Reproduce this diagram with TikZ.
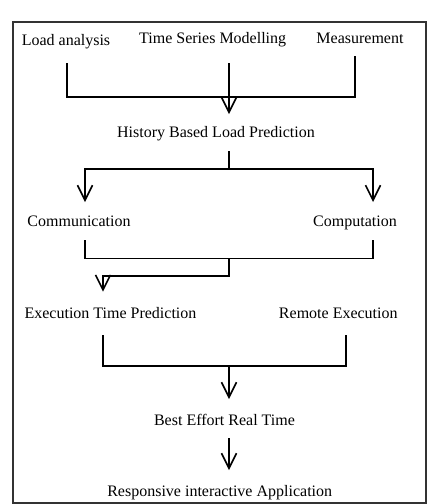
\documentclass[tikz,border=0pt]{standalone}
\usepackage{fontspec}
\setmainfont{Liberation Serif}
\usetikzlibrary{arrows.meta}
\begin{document}
\begin{tikzpicture}[x=1pt,y=-1pt,
  lbl/.style={anchor=base, inner sep=0pt, font=\fontsize{16}{19}\selectfont},
  conn/.style={line width=1.6pt, black},
  arr/.style={conn, -{Straight Barb[length=15pt,width=15pt]}},
]
\useasboundingbox (0,0) rectangle (430,504);
\draw[line width=1.6pt, black!80] (12.7,21.7) rectangle (426,502.7);

\node[lbl] (load) at (66,45) {Load analysis};
\node[lbl] (tsm) at (212.7,43) {Time Series Modelling};
\node[lbl] (meas) at (360,43) {Measurement};
\node[lbl] (hblp) at (216,137.3) {History Based Load Prediction};
\node[lbl] (comm) at (79,226.7) {Communication};
\node[lbl] (comp) at (355,226.7) {Computation};
\node[lbl] (etp) at (110.5,318.3) {Execution Time Prediction};
\node[lbl] (re) at (338.3,318.3) {Remote Execution};
\node[lbl] (bert) at (224.5,425) {Best Effort Real Time};
\node[lbl] (ria) at (219.7,496.7) {Responsive interactive Application};

\coordinate (loadOut) at (67,63);
\coordinate (tsmOut) at (229,63);
\coordinate (measOut) at (355,56);
\coordinate (hblpIn) at (229,114);
\coordinate (m1) at (229,97);
\draw[conn] (loadOut) |- (measOut |- m1) -- (measOut);
\draw[arr] (tsmOut) -- (hblpIn);

\coordinate (hblpOut) at (229,151);
\coordinate (s1) at (229,169);
\coordinate (commIn) at (85,202);
\coordinate (compIn) at (373,202);
\draw[conn] (hblpOut) -- (s1);
\draw[arr] (s1) -| (commIn);
\draw[arr] (s1) -| (compIn);

\coordinate (commOut) at (85,240);
\coordinate (compOut) at (373,240);
\coordinate (m2) at (229,258.5);
\coordinate (m3) at (229,276);
\coordinate (etpIn) at (103,291.7);
\draw[conn] (commOut) |- (compOut |- m2) -- (compOut);
\draw[arr] (m2) -- (m3) -| (etpIn);

\coordinate (etpOut) at (103,335);
\coordinate (reOut) at (346,335);
\coordinate (m4) at (229,366);
\coordinate (bertIn) at (229,399);
\draw[conn] (etpOut) |- (reOut |- m4) -- (reOut);
\draw[arr] (m4) -- (bertIn);

\coordinate (bertOut) at (229,438);
\coordinate (riaIn) at (229,470);
\draw[arr] (bertOut) -- (riaIn);
\end{tikzpicture}
\end{document}
